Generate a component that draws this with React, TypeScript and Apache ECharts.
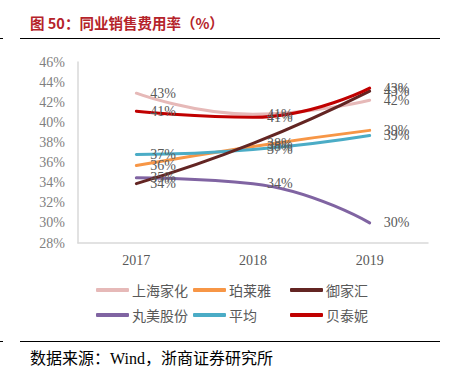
import React, { useEffect, useRef } from "react";
import * as echarts from "echarts";

const categories = ["2017", "2018", "2019"];
const seriesNames = ["上海家化", "珀莱雅", "御家汇", "丸美股份", "平均", "贝泰妮"];
const shjh = [42.9, 40.8, 42.2];
const ply = [35.7, 37.6, 39.2];
const yjh = [33.9, 37.9, 43.1];
const mwgf = [34.5, 33.9, 30.0];
const avg = [36.8, 37.3, 38.7];
const btn = [41.1, 40.5, 43.4];
const seriesData = [shjh, ply, yjh, mwgf, avg, btn];
const colors = ["#E6B9B8", "#F79646", "#632523", "#8064A2", "#4BACC6", "#C00000"];
const drawOrder = [0, 1, 3, 4, 2, 5];
const legendPos = [
  [96, 283], [193, 283], [290, 283],
  [96, 308], [193, 308], [290, 308],
];

const serif = "'Liberation Serif', 'Times New Roman', serif";
const cjk = "'Noto Sans CJK SC', sans-serif";

export default function App() {
  const ref = useRef<HTMLDivElement>(null);
  useEffect(() => {
    if (!ref.current) return;
    const chart = echarts.init(ref.current, undefined, { renderer: "svg" });
    const series = drawOrder.map((i) => ({
      name: seriesNames[i],
      type: "line",
      smooth: true,
      symbol: "circle",
      symbolSize: 0,
      showSymbol: true,
      data: seriesData[i],
      lineStyle: { width: 3, color: colors[i], cap: "round" },
      itemStyle: { color: colors[i] },
      label: {
        show: true,
        position: "right",
        distance: 14,
        color: "#595959",
        fontFamily: serif,
        fontSize: 14,
        formatter: (p: any) => Math.round(p.value) + "%",
      },
    }));
    chart.setOption({
      animation: false,
      grid: { left: 78, right: 22, top: 62, bottom: 132 },
      xAxis: {
        type: "category",
        data: categories,
        axisLine: { lineStyle: { color: "#D9D9D9", width: 1.5 } },
        axisTick: { show: false },
        axisLabel: { color: "#595959", fontFamily: serif, fontSize: 14, margin: 10 },
      },
      yAxis: {
        type: "value",
        min: 28,
        max: 46,
        interval: 2,
        axisLine: { show: true, lineStyle: { color: "#D9D9D9", width: 1.5 } },
        axisTick: { show: false },
        splitLine: { show: false },
        axisLabel: {
          color: "#7F7F7F",
          fontFamily: serif,
          fontSize: 14,
          margin: 13,
          formatter: (v: number) => v + "%",
        },
      },
      legend: seriesNames.map((n, i) => ({
        data: [n],
        left: legendPos[i][0],
        top: legendPos[i][1],
        itemWidth: 33,
        itemHeight: 4,
        itemGap: 4,
        icon: "roundRect",
        textStyle: { color: "#595959", fontFamily: cjk, fontSize: 14, padding: [0, 0, 0, -2] },
        padding: 0,
      })),
      graphic: [
        {
          type: "text",
          left: 30,
          top: 15,
          style: {
            text: "图 50：同业销售费用率（%）",
            fill: "#B5232A",
            font: "bold 14.5px 'Noto Sans CJK SC', sans-serif",
          },
        },
        { type: "line", shape: { x1: 20, y1: 38.5, x2: 440, y2: 38.5 }, style: { stroke: "#000", lineWidth: 1.2 } },
        { type: "line", shape: { x1: 0, y1: 38.5, x2: 3, y2: 38.5 }, style: { stroke: "#000", lineWidth: 1 } },
        { type: "line", shape: { x1: 20, y1: 341.5, x2: 440, y2: 341.5 }, style: { stroke: "#000", lineWidth: 1.2 } },
        { type: "line", shape: { x1: 0, y1: 341.5, x2: 3, y2: 341.5 }, style: { stroke: "#000", lineWidth: 1 } },
        {
          type: "text",
          left: 30,
          top: 350,
          style: {
            text: "数据来源：Wind，浙商证券研究所",
            fill: "#000",
            font: "16px 'Liberation Serif', 'Noto Sans CJK SC', serif",
          },
        },
      ],
      series,
    });
    return () => chart.dispose();
  }, []);
  return (
    <div
      ref={ref}
      style={{ position: "absolute", left: 0, top: 0, width: 450, height: 375, background: "#fff" }}
    />
  );
}
